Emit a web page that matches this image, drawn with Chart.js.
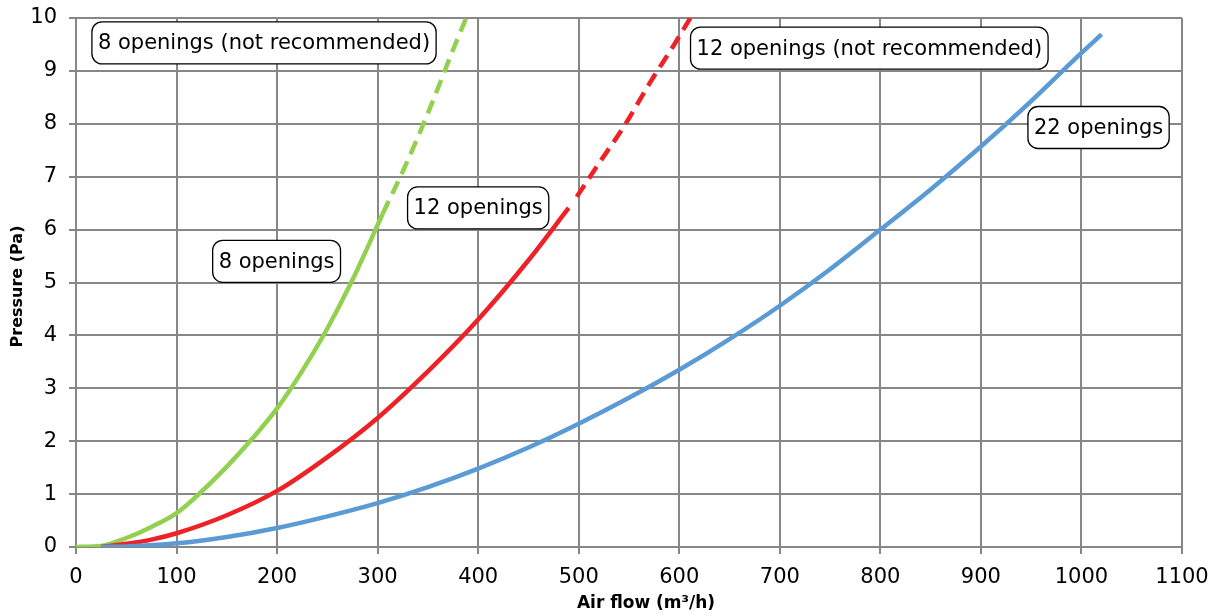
<!DOCTYPE html>
<html>
<head>
<meta charset="utf-8">
<script src="https://cdn.jsdelivr.net/npm/chart.js@4.4.1/dist/chart.umd.min.js"></script>
<style>
  html, body { margin: 0; padding: 0; background: #ffffff; }
  #wrap { width: 1221px; height: 616px; }
</style>
</head>
<body>
<div id="wrap"><canvas id="c" width="1221" height="616"></canvas></div>
<script>
// ---- Data ----
const xTicks = [0, 100, 200, 300, 400, 500, 600, 700, 800, 900, 1000, 1100];
const yTicks = [0, 1, 2, 3, 4, 5, 6, 7, 8, 9, 10];

const green8X      = [0, 25, 50, 75, 100, 125, 150, 175, 200, 225, 250, 275, 305];
const green8Y      = [0, 0.02, 0.17, 0.38, 0.64, 1.05, 1.52, 2.04, 2.62, 3.33, 4.13, 5.05, 6.3];
const green8DashX  = [305, 325, 350, 375, 388];
const green8DashY  = [6.3, 7.1, 8.2, 9.4, 10];

const red12X       = [25, 50, 75, 100, 150, 200, 250, 300, 350, 400, 450, 490];
const red12Y       = [0, 0.06, 0.14, 0.26, 0.6, 1.06, 1.7, 2.44, 3.32, 4.3, 5.42, 6.41];
const red12DashX   = [498, 520, 545, 570, 595, 611];
const red12DashY   = [6.62, 7.25, 7.95, 8.75, 9.5, 10];

const blue22X      = [25, 50, 100, 150, 200, 250, 300, 350, 400, 450, 500, 550, 600, 650, 700, 750, 800, 850, 900, 950, 1000, 1020];
const blue22Y      = [0, 0.01, 0.07, 0.19, 0.36, 0.58, 0.83, 1.13, 1.48, 1.88, 2.33, 2.82, 3.35, 3.93, 4.56, 5.25, 6.0, 6.76, 7.57, 8.43, 9.34, 9.69];

const labelTexts   = ["8 openings (not recommended)", "8 openings", "12 openings", "12 openings (not recommended)", "22 openings"];
const labelAtX     = [187, 199.5, 400, 789, 1017];
const labelAtY     = [9.53, 5.40, 6.41, 9.43, 7.93];

const xTitle = "Air flow (m³/h)";
const yTitle = "Pressure (Pa)";

const FONT = "'DejaVu Sans', sans-serif";

function pts(xs, ys) { return xs.map((x, i) => ({ x: x, y: ys[i] })); }

const labelPlugin = {
  id: 'boxLabels',
  afterDatasetsDraw(chart) {
    const ctx = chart.ctx;
    const xs = chart.scales.x, ys = chart.scales.y;
    ctx.save();
    ctx.font = "21px " + FONT;
    ctx.textAlign = 'center';
    ctx.textBaseline = 'middle';
    labelTexts.forEach((t, i) => {
      const cx = xs.getPixelForValue(labelAtX[i]);
      const cy = ys.getPixelForValue(labelAtY[i]);
      const w = ctx.measureText(t).width + 12;
      const h = 42;
      const x0 = cx - w / 2, y0 = cy - h / 2;
      ctx.beginPath();
      ctx.roundRect(x0, y0, w, h, 10);
      ctx.fillStyle = '#ffffff';
      ctx.fill();
      ctx.lineWidth = 1.3;
      ctx.strokeStyle = '#000000';
      ctx.stroke();
      ctx.fillStyle = '#000000';
      ctx.fillText(t, cx, cy + 1);
    });
    // axis titles
    ctx.fillStyle = '#000000';
    ctx.font = "bold 17px " + FONT;
    ctx.textAlign = 'center';
    ctx.textBaseline = 'middle';
    ctx.fillText(xTitle, 646, 604);
    ctx.save();
    ctx.translate(18, (chart.chartArea.top + chart.chartArea.bottom) / 2 + 4);
    ctx.rotate(-Math.PI / 2);
    ctx.font = "bold 16px " + FONT;
    ctx.fillText(yTitle, 0, 0);
    ctx.restore();
    ctx.restore();
  }
};

const lineBase = {
  showLine: true,
  pointRadius: 0,
  pointHoverRadius: 0,
  borderWidth: 4.5,
  fill: false,
  tension: 0.4,
  cubicInterpolationMode: 'monotone',
  borderCapStyle: 'butt'
};

new Chart(document.getElementById('c'), {
  type: 'scatter',
  data: {
    datasets: [
      Object.assign({}, lineBase, { label: '22 openings', data: pts(blue22X, blue22Y), borderColor: '#5b9bd5' }),
      Object.assign({}, lineBase, { label: '12 openings', data: pts(red12X, red12Y), borderColor: '#ee2226' }),
      Object.assign({}, lineBase, { label: '12 openings (not recommended)', data: pts(red12DashX, red12DashY), borderColor: '#ee2226', borderDash: [14, 8] }),
      Object.assign({}, lineBase, { label: '8 openings', data: pts(green8X, green8Y), borderColor: '#92d050' }),
      Object.assign({}, lineBase, { label: '8 openings (not recommended)', data: pts(green8DashX, green8DashY), borderColor: '#92d050', borderDash: [14, 8] })
    ]
  },
  options: {
    responsive: false,
    animation: false,
    events: [],
    layout: { padding: { top: 18, right: 39, left: 0, bottom: 0 } },
    plugins: { legend: { display: false }, tooltip: { enabled: false } },
    scales: {
      x: {
        type: 'linear',
        min: 0, max: 1100,
        afterBuildTicks(scale) { scale.ticks = xTicks.map(v => ({ value: v })); },
        afterFit(scale) { scale.height = 69; scale.paddingLeft = 0; scale.paddingRight = 0; },
        grid: { color: '#878787', lineWidth: 2, tickLength: 7, drawTicks: true },
        border: { color: '#878787', width: 2 },
        ticks: { color: '#000', font: { family: FONT, size: 21 }, padding: 11, maxRotation: 0, autoSkip: false,
                 callback: (v) => String(v) }
      },
      y: {
        type: 'linear',
        min: 0, max: 10,
        afterBuildTicks(scale) { scale.ticks = yTicks.map(v => ({ value: v })); },
        afterFit(scale) { scale.width = 76; scale.paddingTop = 0; scale.paddingBottom = 0; },
        grid: { color: '#878787', lineWidth: 2, tickLength: 7, drawTicks: true },
        border: { color: '#878787', width: 2 },
        ticks: { color: '#000', font: { family: FONT, size: 21 }, padding: 12, autoSkip: false,
                 callback: (v) => String(v) }
      }
    }
  },
  plugins: [labelPlugin]
});
</script>
</body>
</html>
